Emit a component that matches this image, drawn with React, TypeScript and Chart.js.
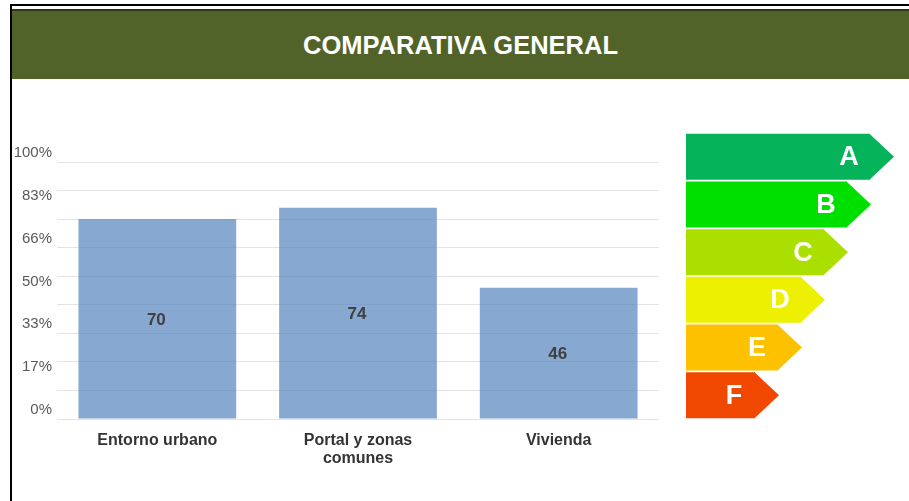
import React, { useEffect, useRef } from "react";
import { Chart, registerables } from "chart.js";

Chart.register(...registerables);

const titleText = "COMPARATIVA GENERAL";
const categories: string[][] = [["Entorno urbano"], ["Portal y zonas", "comunes"], ["Vivienda"]];
const values: number[] = [70, 74, 46];
const yTickLabels: string[] = ["0%", "17%", "33%", "50%", "66%", "83%", "100%"];
const ratingLetters: string[] = ["A", "B", "C", "D", "E", "F"];
const ratingLengths: number[] = [8, 7, 6, 5, 4, 3];

const ratingColors = ["#05B45A", "#00E000", "#AADF00", "#EDF000", "#FDC100", "#F04800"];
const FONT = '"Liberation Sans", Arial, Helvetica, sans-serif';

const barLabelPlugin = {
  id: "barLabels",
  afterDatasetsDraw(chart: any) {
    const ctx = chart.ctx;
    const meta = chart.getDatasetMeta(0);
    ctx.save();
    ctx.font = `bold 17px ${FONT}`;
    ctx.fillStyle = "#404040";
    ctx.textAlign = "center";
    ctx.textBaseline = "middle";
    meta.data.forEach((el: any, i: number) => {
      const p = el.getProps(["x", "y", "base"], true);
      ctx.fillText(String(chart.data.datasets[0].data[i]), p.x - 1, (p.y + p.base) / 2 + 1.5);
    });
    ctx.restore();
  },
};

const arrowPlugin = {
  id: "arrowTips",
  afterDatasetsDraw(chart: any) {
    const ctx = chart.ctx;
    const meta = chart.getDatasetMeta(0);
    ctx.save();
    meta.data.forEach((el: any, i: number) => {
      const p = el.getProps(["x", "y", "height"], true);
      const h = p.height;
      ctx.fillStyle = ratingColors[i];
      ctx.beginPath();
      ctx.moveTo(p.x - 0.5, p.y - h / 2);
      ctx.lineTo(p.x + 24, p.y);
      ctx.lineTo(p.x - 0.5, p.y + h / 2);
      ctx.closePath();
      ctx.fill();
      ctx.font = `bold 27px ${FONT}`;
      ctx.fillStyle = "#FFFFFF";
      ctx.textAlign = "center";
      ctx.textBaseline = "middle";
      ctx.fillText(chart.data.labels[i], p.x - 21, p.y + 1);
    });
    ctx.restore();
  },
};

export default function App() {
  const mainRef = useRef<HTMLCanvasElement | null>(null);
  const arrowRef = useRef<HTMLCanvasElement | null>(null);

  useEffect(() => {
    if (!mainRef.current || !arrowRef.current) return;
    const main = new Chart(mainRef.current, {
      type: "bar",
      data: {
        labels: categories,
        datasets: [
          {
            data: values,
            backgroundColor: "rgba(79,129,189,0.69)",
            borderWidth: 0,
            barPercentage: 0.786,
            categoryPercentage: 1,
            yAxisID: "y",
          },
        ],
      },
      options: {
        responsive: false,
        animation: false,
        layout: { padding: { left: 10, top: 162, right: 250, bottom: 0 } },
        plugins: { legend: { display: false }, tooltip: { enabled: false }, title: { display: false } },
        scales: {
          x: {
            type: "category",
            grid: { display: false, drawTicks: false },
            border: { display: false },
            ticks: {
              font: { family: FONT, size: 16, weight: "bold", lineHeight: 1.125 },
              color: "#333333",
              padding: 13,
              maxRotation: 0,
              autoSkip: false,
            },
            afterFit: (s: any) => {
              s.height = 82;
            },
          },
          y: {
            type: "linear",
            position: "left",
            min: 0,
            max: 90,
            ticks: { stepSize: 10, display: false },
            grid: { color: "#E4E4E4", drawTicks: false, lineWidth: 1 },
            border: { display: false },
            afterFit: (s: any) => {
              s.width = 0;
            },
          },
          y2: {
            type: "linear",
            position: "left",
            min: 0,
            max: 6,
            ticks: {
              stepSize: 1,
              callback: (v: any) => yTickLabels[Math.round(Number(v))],
              labelOffset: -9,
              font: { family: FONT, size: 15 },
              color: "#595959",
              padding: 5,
            },
            grid: { display: false, drawTicks: false },
            border: { display: false },
            afterFit: (s: any) => {
              s.width = 47;
            },
          },
        },
      },
      plugins: [barLabelPlugin],
    });

    const arrows = new Chart(arrowRef.current, {
      type: "bar",
      data: {
        labels: ratingLetters,
        datasets: [
          {
            data: ratingLengths,
            backgroundColor: ratingColors,
            borderWidth: 0,
            barPercentage: 0.965,
            categoryPercentage: 1,
          },
        ],
      },
      options: {
        indexAxis: "y",
        responsive: false,
        animation: false,
        layout: { padding: { left: 6, right: 16, top: 13, bottom: 11 } },
        plugins: { legend: { display: false }, tooltip: { enabled: false } },
        scales: {
          x: { min: 0, max: 9, display: false },
          y: { display: false },
        },
      },
      plugins: [arrowPlugin],
    });

    return () => {
      main.destroy();
      arrows.destroy();
    };
  }, []);

  return (
    <div
      style={{
        position: "fixed",
        left: 0,
        top: 0,
        width: 909,
        height: 501,
        background: "#FFFFFF",
        overflow: "hidden",
        fontFamily: FONT,
      }}
    >
      <canvas ref={mainRef} width={909} height={501} style={{ position: "absolute", left: 0, top: 0 }} />
      <canvas ref={arrowRef} width={229} height={310} style={{ position: "absolute", left: 680, top: 120 }} />
      <div style={{ position: "absolute", left: 10, top: 4, width: 899, height: 2, background: "#000" }} />
      <div style={{ position: "absolute", left: 10, top: 4, width: 2, height: 497, background: "#000" }} />
      <div
        style={{
          position: "absolute",
          left: 12,
          top: 9,
          width: 897,
          height: 68,
          borderTop: "2px solid #2D3717",
          background: "#52632A",
          color: "#FFFFFF",
          fontWeight: "bold",
          fontSize: 25.5,
          lineHeight: "68px",
          textAlign: "center",
        }}
      >
        {titleText}
      </div>
    </div>
  );
}
